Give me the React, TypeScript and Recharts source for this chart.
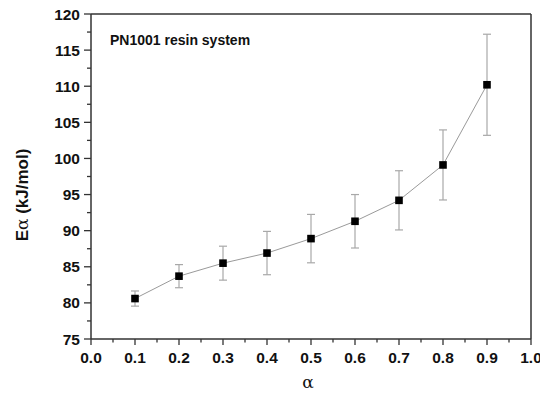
import React from 'react';
import { ComposedChart, Line, XAxis, YAxis, ErrorBar, ReferenceLine } from 'recharts';

const alpha = [0.1, 0.2, 0.3, 0.4, 0.5, 0.6, 0.7, 0.8, 0.9];
const activationEnergy = [80.6, 83.7, 85.5, 86.9, 88.9, 91.3, 94.2, 99.1, 110.2];
const errorValues = [1.05, 1.6, 2.35, 3.0, 3.35, 3.7, 4.1, 4.85, 7.0];

const xMajorTicks = [0, 0.1, 0.2, 0.3, 0.4, 0.5, 0.6, 0.7, 0.8, 0.9, 1.0];
const xMinorTicks = [0.05, 0.15, 0.25, 0.35, 0.45, 0.55, 0.65, 0.75, 0.85, 0.95];
const yMajorTicks = [75, 80, 85, 90, 95, 100, 105, 110, 115, 120];
const yMinorTicks = [77.5, 82.5, 87.5, 92.5, 97.5, 102.5, 107.5, 112.5, 117.5];

const data = alpha.map((a, i) => ({ alpha: a, ea: activationEnergy[i], err: errorValues[i] }));

const FONT = '"Liberation Sans", Arial, sans-serif';
const SERIF = '"DejaVu Serif", "Liberation Serif", serif';
const AXIS_COLOR = '#333';

const isMajorX = (v: number) => xMajorTicks.some((t) => Math.abs(t - v) < 1e-6);
const isMajorY = (v: number) => yMajorTicks.some((t) => Math.abs(t - v) < 1e-6);

function XTick({ x, y, payload }: any) {
  const major = isMajorX(payload.value);
  return (
    <g>
      <line x1={x} x2={x} y1={y} y2={y + (major ? 6 : 3.5)} stroke={AXIS_COLOR} strokeWidth={1.3} />
      {major && (
        <text x={x} y={y + 23.5} textAnchor="middle" fontFamily={FONT} fontWeight="bold" fontSize={15.5} fill="#111">
          {payload.value.toFixed(1)}
        </text>
      )}
    </g>
  );
}

function YTick({ x, y, payload }: any) {
  const major = isMajorY(payload.value);
  return (
    <g>
      <line x1={x - (major ? 7 : 4)} x2={x} y1={y} y2={y} stroke={AXIS_COLOR} strokeWidth={1.3} />
      {major && (
        <text x={x - 11} y={y} dy="0.36em" textAnchor="end" fontFamily={FONT} fontWeight="bold" fontSize={15.5} fill="#111">
          {payload.value}
        </text>
      )}
    </g>
  );
}

function SquareDot({ cx, cy }: any) {
  if (cx == null || cy == null) return null;
  return <rect x={cx - 3.8} y={cy - 3.8} width={7.6} height={7.6} fill="#000" />;
}

export default function App() {
  return (
    <div style={{ position: 'absolute', left: 0, top: 0, width: 540, height: 396, background: '#fff' }}>
      <ComposedChart
        width={540}
        height={396}
        data={data}
        margin={{ top: 14, right: 9, left: 41, bottom: 27 }}
      >
        <XAxis
          dataKey="alpha"
          type="number"
          domain={[0, 1]}
          ticks={[...xMajorTicks, ...xMinorTicks].sort((a, b) => a - b)}
          interval={0}
          height={30}
          tickSize={0}
          tickMargin={0}
          tickLine={false}
          axisLine={{ stroke: AXIS_COLOR, strokeWidth: 1.5 }}
          tick={<XTick />}
        />
        <YAxis
          type="number"
          domain={[75, 120]}
          ticks={[...yMajorTicks, ...yMinorTicks].sort((a, b) => a - b)}
          interval={0}
          width={50}
          tickSize={0}
          tickMargin={0}
          tickLine={false}
          axisLine={{ stroke: AXIS_COLOR, strokeWidth: 1.5 }}
          tick={<YTick />}
        />
        <ReferenceLine y={120} stroke={AXIS_COLOR} strokeWidth={1.5} />
        <ReferenceLine x={1} stroke={AXIS_COLOR} strokeWidth={1.5} />
        <Line
          dataKey="ea"
          stroke="#9a9a9a"
          strokeWidth={1}
          dot={<SquareDot />}
          activeDot={false}
          isAnimationActive={false}
        >
          <ErrorBar dataKey="err" direction="y" width={4} stroke="#a8a8a8" strokeWidth={1.2} />
        </Line>
      </ComposedChart>
      <div
        style={{
          position: 'absolute',
          left: 110,
          top: 32,
          fontFamily: FONT,
          fontWeight: 'bold',
          fontSize: 14,
          color: '#111',
          whiteSpace: 'nowrap',
        }}
      >
        PN1001 resin system
      </div>
      <div
        style={{
          position: 'absolute',
          left: 22,
          top: 195,
          transform: 'translate(-50%, -50%) rotate(-90deg)',
          fontFamily: FONT,
          fontWeight: 'bold',
          fontSize: 17,
          color: '#111',
          whiteSpace: 'nowrap',
        }}
      >
        E<span style={{ fontFamily: SERIF, fontWeight: 'normal' }}>α</span> (kJ/mol)
      </div>
      <div
        style={{
          position: 'absolute',
          left: 308,
          top: 372,
          transform: 'translateX(-50%)',
          fontFamily: SERIF,
          fontSize: 17,
          color: '#111',
        }}
      >
        α
      </div>
    </div>
  );
}
